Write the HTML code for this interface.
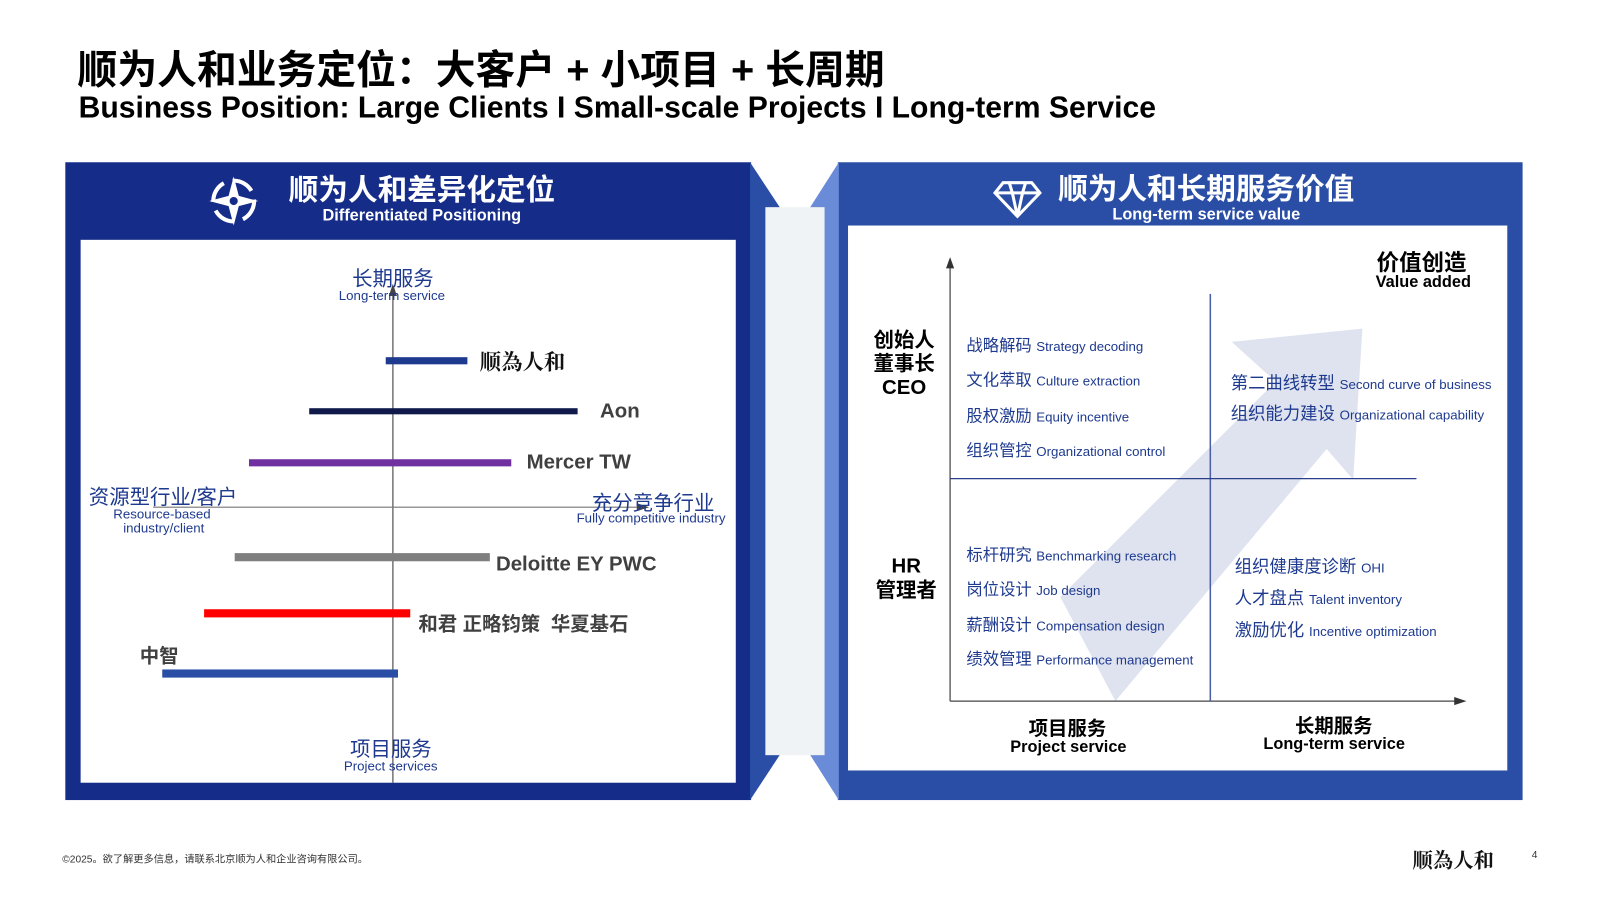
<!DOCTYPE html>
<html><head><meta charset="utf-8"><style>
*{margin:0;padding:0;box-sizing:border-box}
body{width:1600px;height:900px;background:#fff;position:relative;overflow:hidden;font-family:"Liberation Sans","Noto Sans CJK SC",sans-serif}
#w{position:absolute;left:0;top:0;width:1570px;height:882px;transform:scale(1.0205);transform-origin:0 0}
.a{position:absolute;white-space:nowrap}
.bl{color:#1e3a8f}
.b{font-weight:bold}
</style></head><body><div id="w">
<div class="a b" style="left:76px;top:38px;font-size:39px;color:#000">顺为人和业务定位：大客户 + 小项目 + 长周期</div>
<div class="a b" style="left:77px;top:89px;font-size:29.5px;color:#000">Business Position: Large Clients I Small-scale Projects I Long-term Service</div>

<svg class="a" style="left:0;top:0" width="1600" height="900">
<rect x="64" y="159" width="672" height="625" fill="#152c88"/>
<rect x="79" y="235" width="642" height="532" fill="#fff"/>
<polygon points="735,159 764,203 764,740 735,784" fill="#2a4ea6"/>
<rect x="821" y="159" width="671" height="625" fill="#2a4ea6"/>
<polygon points="822,159 794,203 794,740 822,784" fill="#6a8bd8"/>
<rect x="750" y="203" width="58" height="537" fill="#f0f3f5"/>
<rect x="831" y="221" width="646" height="534" fill="#fff"/>
<line x1="385" y1="285" x2="385" y2="767" stroke="#555" stroke-width="1.2"/>
<polygon points="385,278 381,290 389,290" fill="#444"/>
<line x1="150" y1="497" x2="628" y2="497" stroke="#777" stroke-width="1.2"/>
<polygon points="636,497 624,493 624,501" fill="#444"/>
<rect x="378" y="350" width="80" height="7" fill="#1e3a8f"/>
<rect x="303" y="400" width="263" height="6" fill="#0f1a4a"/>
<rect x="244" y="450" width="257" height="7" fill="#7030a0"/>
<rect x="230" y="542" width="250" height="8" fill="#7f7f7f"/>
<rect x="200" y="597" width="202" height="8" fill="#ff0000"/>
<rect x="159" y="656" width="231" height="8" fill="#2a4ea6"/>
<polygon points="1039,585 1250,374 1207,335 1335,322 1326,470 1300,440 1093,687" fill="#dfe3ef"/>
<line x1="931" y1="260" x2="931" y2="687" stroke="#444" stroke-width="1.2"/>
<polygon points="931,252 927,263 935,263" fill="#333"/>
<line x1="931" y1="687" x2="1428" y2="687" stroke="#444" stroke-width="1.2"/>
<polygon points="1437,687 1425,683 1425,691" fill="#333"/>
<line x1="1186" y1="288" x2="1186" y2="687" stroke="#4a5fa6" stroke-width="1.5"/>
<line x1="931" y1="469" x2="1388" y2="469" stroke="#2a3f8a" stroke-width="1.2"/>
<g transform="translate(229,197)" fill="#fff">
<circle r="20" fill="none" stroke="#fff" stroke-width="4" stroke-dasharray="22 9"/>
<polygon points="0,-24 5,-5 24,0 5,5 0,24 -5,5 -24,0 -5,-5"/>
<circle r="4" fill="#152c88"/>
</g>
<g transform="translate(997,193)" fill="none" stroke="#fff" stroke-width="3">
<polygon points="-14,-14 14,-14 22,-4 0,19 -22,-4"/>
<line x1="-22" y1="-4" x2="22" y2="-4"/>
<polyline points="-8,-14 -5,-4 0,19 5,-4 8,-14"/>
</g>
</svg>

<div class="a b" style="left:283px;top:163px;font-size:29px;color:#fff">顺为人和差异化定位</div>
<div class="a b" style="left:316px;top:203px;font-size:16px;color:#fff">Differentiated Positioning</div>
<div class="a b" style="left:1037px;top:162px;font-size:29px;color:#fff">顺为人和长期服务价值</div>
<div class="a b" style="left:1090px;top:202px;font-size:16px;color:#fff">Long-term service value</div>

<div class="a bl" style="left:345px;top:257px;font-size:20px">长期服务</div>
<div class="a bl" style="left:332px;top:282px;font-size:13px">Long-term service</div>
<div class="a b" style="left:470px;top:339px;font-size:21px;font-family:'Noto Serif CJK SC',serif;color:#111">顺為人和</div>
<div class="a b" style="left:588px;top:392px;font-size:20px;color:#404040">Aon</div>
<div class="a b" style="left:516px;top:442px;font-size:20px;color:#404040">Mercer TW</div>
<div class="a bl" style="left:87px;top:471px;font-size:20px">资源型行业/客户</div>
<div class="a bl" style="left:111px;top:497px;font-size:13px;text-align:center;line-height:14px">Resource-based<br>&nbsp;industry/client</div>
<div class="a bl" style="left:580px;top:477px;font-size:20px">充分竞争行业</div>
<div class="a bl" style="left:565px;top:500px;font-size:13px">Fully competitive industry</div>
<div class="a b" style="left:486px;top:542px;font-size:20px;color:#404040">Deloitte EY PWC</div>
<div class="a b" style="left:410px;top:597px;font-size:19px;color:#404040">和君 正略钧策&nbsp; 华夏基石</div>
<div class="a b" style="left:137px;top:628px;font-size:19px;color:#404040">中智</div>
<div class="a bl" style="left:343px;top:718px;font-size:20px">项目服务</div>
<div class="a bl" style="left:337px;top:743px;font-size:13px">Project services</div>

<div class="a b" style="left:1349px;top:240px;font-size:22px;color:#000">价值创造</div>
<div class="a b" style="left:1348px;top:268px;font-size:16px;color:#000">Value added</div>
<div class="a b" style="left:856px;top:323px;font-size:20px;color:#000;text-align:center;line-height:23px">创始人<br>董事长<br>CEO</div>
<div class="a b" style="left:858px;top:543px;font-size:20px;color:#000;text-align:center;line-height:24px">HR<br>管理者</div>
<div class="a bl" style="left:947px;top:325px;font-size:16px">战略解码 <span style="font-size:13px">Strategy decoding</span></div>
<div class="a bl" style="left:947px;top:359px;font-size:16px">文化萃取 <span style="font-size:13px">Culture extraction</span></div>
<div class="a bl" style="left:947px;top:394px;font-size:16px">股权激励 <span style="font-size:13px">Equity incentive</span></div>
<div class="a bl" style="left:947px;top:428px;font-size:16px">组织管控 <span style="font-size:13px">Organizational control</span></div>
<div class="a bl" style="left:1206px;top:361px;font-size:17px">第二曲线转型 <span style="font-size:13px">Second curve of business</span></div>
<div class="a bl" style="left:1206px;top:391px;font-size:17px">组织能力建设 <span style="font-size:13px">Organizational capability</span></div>
<div class="a bl" style="left:947px;top:530px;font-size:16px">标杆研究 <span style="font-size:13px">Benchmarking research</span></div>
<div class="a bl" style="left:947px;top:564px;font-size:16px">岗位设计 <span style="font-size:13px">Job design</span></div>
<div class="a bl" style="left:947px;top:599px;font-size:16px">薪酬设计 <span style="font-size:13px">Compensation design</span></div>
<div class="a bl" style="left:947px;top:632px;font-size:16px">绩效管理 <span style="font-size:13px">Performance management</span></div>
<div class="a bl" style="left:1210px;top:541px;font-size:17px">组织健康度诊断 <span style="font-size:13px">OHI</span></div>
<div class="a bl" style="left:1210px;top:572px;font-size:17px">人才盘点 <span style="font-size:13px">Talent inventory</span></div>
<div class="a bl" style="left:1210px;top:603px;font-size:17px">激励优化 <span style="font-size:13px">Incentive optimization</span></div>
<div class="a b" style="left:1008px;top:699px;font-size:19px;color:#000">项目服务</div>
<div class="a b" style="left:990px;top:724px;font-size:16px;color:#000">Project service</div>
<div class="a b" style="left:1269px;top:697px;font-size:19px;color:#000">长期服务</div>
<div class="a b" style="left:1238px;top:721px;font-size:16px;color:#000">Long-term service</div>

<div class="a" style="left:61px;top:833px;font-size:10px;color:#333">©2025。欲了解更多信息，请联系北京顺为人和企业咨询有限公司。</div>
<div class="a b" style="left:1384px;top:827px;font-size:20px;font-family:'Noto Serif CJK SC',serif;color:#111">顺為人和</div>
<div class="a" style="left:1501px;top:833px;font-size:10px;color:#333">4</div>
</div></body></html>
